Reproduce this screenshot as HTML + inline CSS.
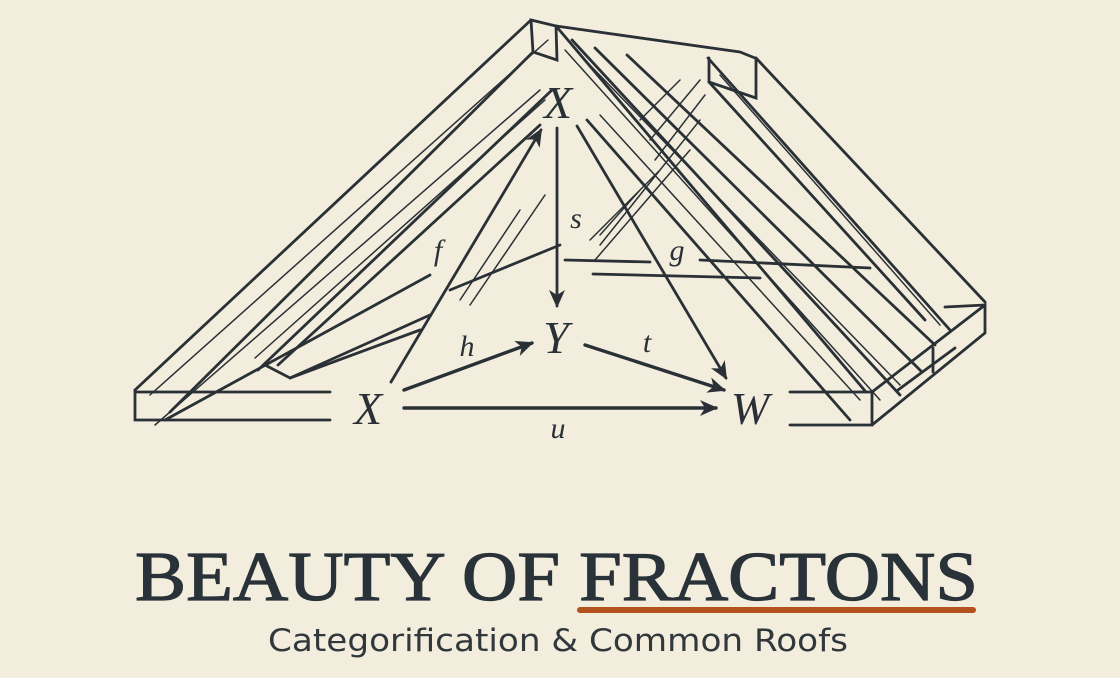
<!DOCTYPE html>
<html><head><meta charset="utf-8"><style>
html,body{margin:0;padding:0;background:#f3eddd;}
svg{display:block;}
</style></head><body>
<svg width="1120" height="678" viewBox="0 0 1120 678" xmlns="http://www.w3.org/2000/svg">
<rect width="1120" height="678" fill="#f3eddd"/>
<defs>
<marker id="ah2" markerWidth="18" markerHeight="18" refX="16" refY="9" orient="auto" markerUnits="userSpaceOnUse" viewBox="0 0 18 18"><path d="M0,1 L18,9 L0,17 L5,9 z" fill="#2a3136"/></marker></defs>
<g stroke="#2a3136" fill="none" stroke-linecap="round">
<g stroke-width="2.8">
<path d="M531,20 L556,26 L557,60 L533,52 Z"/>
<path d="M556,26 L740,52 L755,58"/>
<path d="M709,58 L709,82 L756,98 L756,58"/>
<path d="M531,20 L135,390"/>
<path d="M533,52 L170,412"/>
<path d="M552,90 L258,370"/>
<path d="M540,125 L278,365"/>
<path d="M135,390 L135,420 L330,420"/>
<path d="M135,392 L330,392"/>
<path d="M165,420 L430,275"/>
<path d="M265,365 L290,378 L430,315"/>
<path d="M290,378 L420,330"/>
<path d="M556,26 L866,392"/>
<path d="M572,40 L900,395"/>
<path d="M595,48 L922,372"/>
<path d="M627,55 L935,345"/>
<path d="M587,120 L850,420"/>
<path d="M756,58 L985,302"/>
<path d="M708,58 L950,330"/>
<path d="M709,82 L925,320"/>
<path d="M790,392 L872,392 L872,425 L790,425"/>
<path d="M872,392 L985,305 L985,333 L872,425"/>
<path d="M933,348 L933,372"/>
<path d="M898,390 L955,348"/>
<path d="M945,307 L985,305"/>
<path d="M565,260 L650,262"/>
<path d="M593,274 L760,278"/>
<path d="M700,260 L870,268"/>
<path d="M560,245 L450,290"/>
</g>
<g stroke-width="1.5">
<path d="M548,40 L150,395"/>
<path d="M545,100 L255,358"/>
<path d="M565,50 L880,400"/>
<path d="M585,60 L900,385"/>
<path d="M600,115 L860,400"/>
<path d="M720,75 L940,325"/>
<path d="M680,80 L640,120 M700,80 L650,140 M705,95 L655,160 M700,120 L600,245 M690,150 L595,260 M660,170 L590,240 M640,190 L600,235"/>
<path d="M155,425 L540,90"/>
<path d="M460,300 L520,210 M470,305 L545,195"/>
</g>
<g stroke-width="3.4">
<path d="M404,408 L716,408" marker-end="url(#ah2)"/>
<path d="M404,390 L532,343" marker-end="url(#ah2)"/>
<path d="M585,345 L724,390" marker-end="url(#ah2)"/>
</g>
<g stroke-width="2.8">
<path d="M391,382 L541,130" marker-end="url(#ah2)"/>
<path d="M557,128 L557,306" marker-end="url(#ah2)"/>
<path d="M577,126 L726,378" marker-end="url(#ah2)"/>
</g>
</g>
<g font-family="Liberation Serif, serif" font-style="italic" fill="#2a3136" text-anchor="middle">
<text x="558" y="118" font-size="46">X</text>
<text x="556" y="353" font-size="46">Y</text>
<text x="368" y="424" font-size="46">X</text>
<text x="750" y="424" font-size="46">W</text>
<text x="438" y="260" font-size="30">f</text>
<text x="576" y="228" font-size="30">s</text>
<text x="677" y="260" font-size="30">g</text>
<text x="467" y="356" font-size="30">h</text>
<text x="647" y="352" font-size="30">t</text>
<text x="558" y="438" font-size="30">u</text>
</g>
<text x="135" y="600" font-family="Liberation Serif, serif" font-size="70" fill="#283238" stroke="#283238" stroke-width="1.2" textLength="843" lengthAdjust="spacingAndGlyphs">BEAUTY OF FRACTONS</text>
<rect x="577" y="607" width="399" height="6" rx="3" fill="#b4521d"/>
<text x="268" y="651" font-family="DejaVu Sans, sans-serif" font-size="31" fill="#30383c" textLength="580" lengthAdjust="spacingAndGlyphs">Categorification &amp; Common Roofs</text>
</svg>
</body></html>
